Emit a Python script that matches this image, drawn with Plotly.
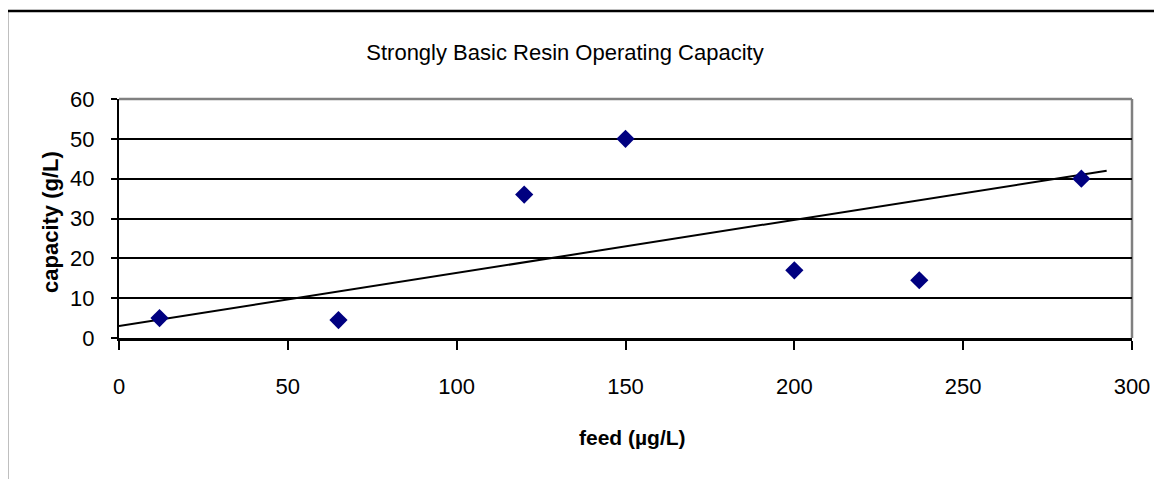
"""Strongly basic resin operating capacity vs feed concentration (Excel-style scatter)."""
import plotly.graph_objects as go

FONT = "Liberation Sans, Arial, sans-serif"

# measured points
feed = [12, 65, 120, 150, 200, 237, 285]
capacity = [5, 4.5, 36, 50, 17, 14.5, 40]

# linear trendline as drawn in the source
trend_feed = [0, 292.5]
trend_capacity = [3.0, 42.0]

x_ticks = [0, 50, 100, 150, 200, 250, 300]
y_ticks = [0, 10, 20, 30, 40, 50, 60]

# the page body adds an 8px margin, so the figure is shrunk and shifted to fit
OFF = 8
W, H = 1162 - 2 * OFF, 487 - 2 * OFF
L, T = 119 - OFF, 99 - OFF
R = W - (1132 - OFF)
B = H - (338 - OFF)
pw, ph = W - L - R, H - T - B


def px_x(p):
    # screen x (reference pixels) -> paper x
    return (p - OFF - L) / pw


def px_y(p):
    # screen y (reference pixels) -> paper y
    return (H - B - (p - OFF)) / ph


fig = go.Figure()
fig.add_trace(go.Scatter(
    x=trend_feed, y=trend_capacity, mode="lines",
    line=dict(color="black", width=2), hoverinfo="skip", showlegend=False,
))
fig.add_trace(go.Scatter(
    x=feed, y=capacity, mode="markers",
    marker=dict(symbol="diamond", size=14, color="#000080", line=dict(width=0)),
    showlegend=False,
))

fig.update_layout(
    width=W, height=H,
    margin=dict(l=L, r=R, t=T, b=B, autoexpand=False),
    paper_bgcolor="white", plot_bgcolor="white",
    font=dict(family=FONT, size=22, color="black"),
    title=dict(
        text="Strongly Basic Resin Operating Capacity",
        x=px_x(565), xref="paper", xanchor="center",
        y=1 - (52 - OFF) / H, yref="container", yanchor="middle",
        font=dict(family=FONT, size=22, color="black"),
    ),
    showlegend=False,
)

fig.update_xaxes(
    range=[0, 300], tickvals=x_ticks, ticks="outside", ticklen=9, tickwidth=2,
    tickcolor="black", showline=True, linecolor="black", linewidth=2.5,
    showgrid=False, zeroline=False, ticklabelstandoff=18, automargin=False,
    tickfont=dict(family=FONT, size=22),
)
fig.update_yaxes(
    range=[0, 60], tickvals=y_ticks, ticks="outside", ticklen=6, tickwidth=2,
    tickcolor="black", showline=True, linecolor="black", linewidth=2,
    showgrid=True, gridcolor="black", gridwidth=2, zeroline=False,
    ticklabelstandoff=12, automargin=False, tickfont=dict(family=FONT, size=22),
)

# axis titles placed like Excel does
fig.add_annotation(
    text="<b>feed (µg/L)</b>", xref="paper", yref="paper",
    x=px_x(632), y=px_y(437), showarrow=False,
    font=dict(family=FONT, size=21), xanchor="center", yanchor="middle",
)
fig.add_annotation(
    text="<b>capacity (g/L)</b>", xref="paper", yref="paper",
    x=px_x(50), y=px_y(222), showarrow=False, textangle=-90,
    font=dict(family=FONT, size=22), xanchor="center", yanchor="middle",
)

# gray plot-area border (top and right) and outer chart frame
fig.add_shape(type="line", xref="paper", yref="paper", x0=0, x1=1, y0=1, y1=1,
              line=dict(color="#808080", width=2.5), layer="between")
fig.add_shape(type="line", xref="paper", yref="paper", x0=1, x1=1, y0=0, y1=1,
              line=dict(color="#808080", width=2.5), layer="between")
fig.add_shape(type="rect", xref="paper", yref="paper",
              x0=px_x(7), x1=px_x(1162 + 40), y0=px_y(487 + 40), y1=px_y(11),
              line=dict(color="black", width=2.5))

fig.write_html("out.html")
